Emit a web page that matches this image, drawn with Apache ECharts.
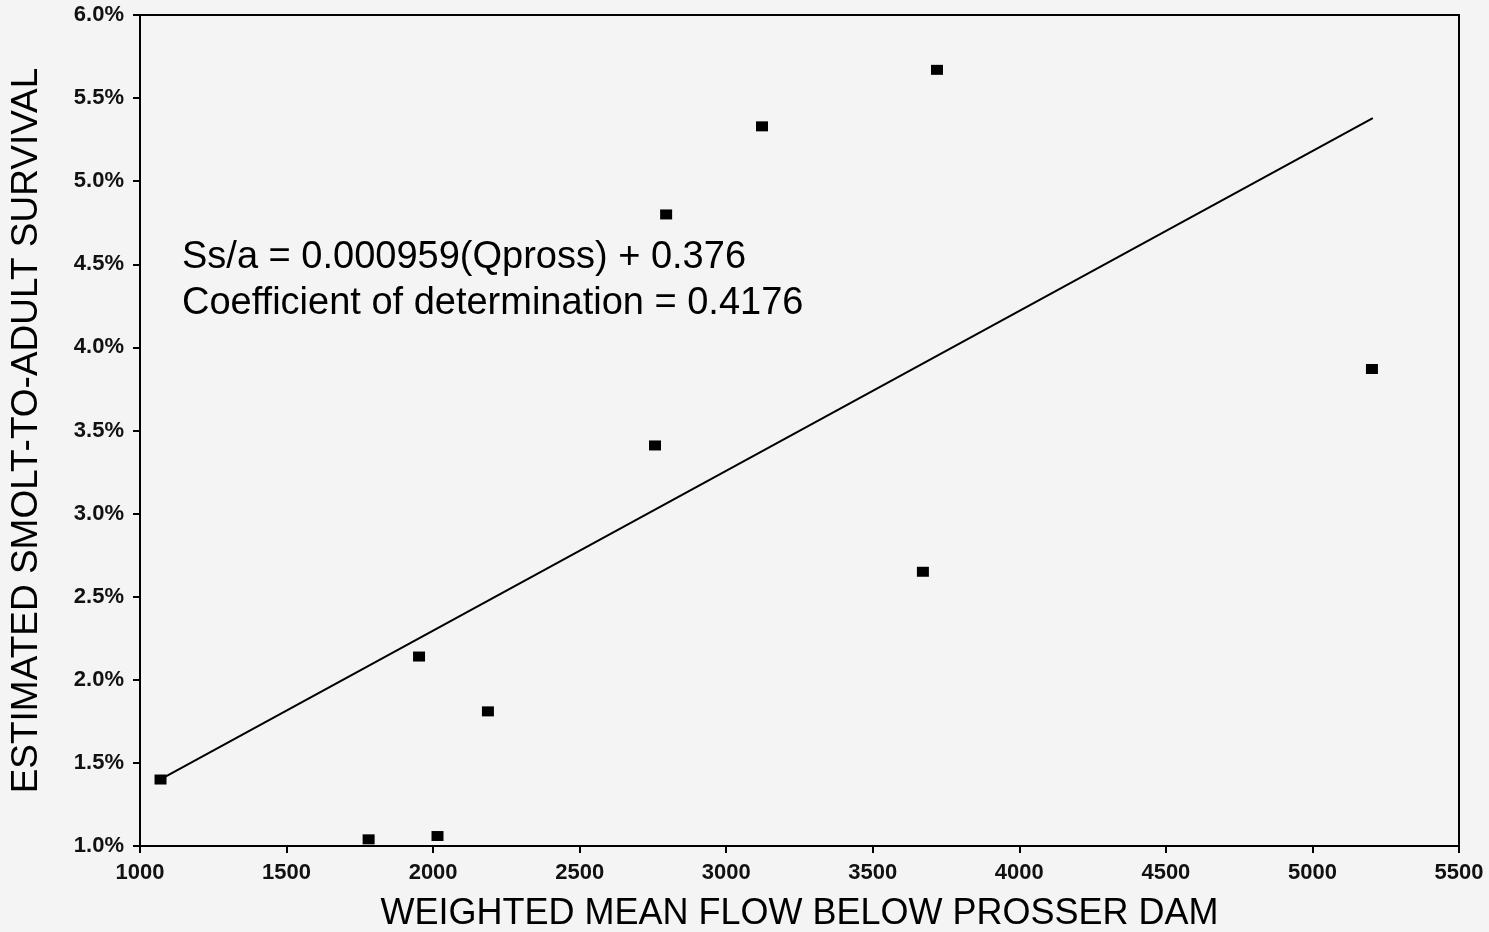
<!DOCTYPE html>
<html>
<head>
<meta charset="utf-8">
<script src="https://cdn.jsdelivr.net/npm/echarts@6/dist/echarts.min.js"></script>
<style>
html,body{margin:0;padding:0;background:#f4f4f4;}
#chart{width:1489px;height:932px;}
</style>
</head>
<body>
<div id="chart"></div>
<script>
// Observed points: weighted mean flow below Prosser Dam vs survival (%)
const flowX = [1070, 1780, 2015, 1952, 2187, 2757, 2795, 3122, 3719, 3671, 5203];
const survivalY = [1.40, 1.04, 1.06, 2.14, 1.81, 3.41, 4.80, 5.33, 5.67, 2.65, 3.87];
// Regression line endpoints
const fitX = [1068, 5206];
const fitY = [1.40, 5.38];
const equationLines = [
  'Ss/a = 0.000959(Qpross) + 0.376',
  'Coefficient of determination = 0.4176'
];
const xTitle = 'WEIGHTED MEAN FLOW BELOW PROSSER DAM';
const yTitle = 'ESTIMATED SMOLT-TO-ADULT SURVIVAL';

const chart = echarts.init(document.getElementById('chart'));
const font = 'Liberation Sans, Arial, Helvetica, sans-serif';
chart.setOption({
  backgroundColor: '#f4f4f4',
  animation: false,
  grid: {left: 140, top: 15, right: 30, bottom: 86, containLabel: false, outerBoundsMode: 'none',
    show: true, borderColor: '#000', borderWidth: 2, backgroundColor: 'transparent'},
  xAxis: {
    type: 'value', min: 1000, max: 5500, interval: 500,
    name: xTitle, nameLocation: 'middle', nameGap: 50,
    nameTextStyle: {fontSize: 36, color: '#000', fontFamily: font},
    axisLine: {lineStyle: {color: '#000', width: 2}},
    axisTick: {show: true, inside: false, length: 7, lineStyle: {color: '#000', width: 2}},
    axisLabel: {fontSize: 22, fontWeight: 'bold', color: '#111', fontFamily: font, margin: 16, showMaxLabel: true,
      formatter: v => String(v)},
    splitLine: {show: false}
  },
  yAxis: {
    type: 'value', min: 1, max: 6, interval: 0.5,
    name: yTitle, nameLocation: 'middle', nameGap: 95, nameRotate: 90,
    nameTextStyle: {fontSize: 37, color: '#000', fontFamily: font},
    axisLine: {lineStyle: {color: '#000', width: 2}},
    axisTick: {show: true, inside: false, length: 7, lineStyle: {color: '#000', width: 2}},
    axisLabel: {fontSize: 22, fontWeight: 'bold', color: '#111', fontFamily: font, margin: 16,
      formatter: v => v.toFixed(1) + '%'},
    splitLine: {show: false}
  },
  graphic: [
    {type: 'text', left: 182, top: 239, style: {text: equationLines[0], font: '38px ' + font, fill: '#000'}},
    {type: 'text', left: 182, top: 285, style: {text: equationLines[1], font: '38px ' + font, fill: '#000'}}
  ],
  series: [
    {
      type: 'line', data: fitX.map((x, i) => [x, fitY[i]]),
      showSymbol: false, lineStyle: {color: '#000', width: 2}, z: 2
    },
    {
      type: 'scatter', data: flowX.map((x, i) => [x, survivalY[i]]),
      symbol: 'rect', symbolSize: [12, 10], itemStyle: {color: '#000', opacity: 1}, z: 3
    }
  ]
});
</script>
</body>
</html>
